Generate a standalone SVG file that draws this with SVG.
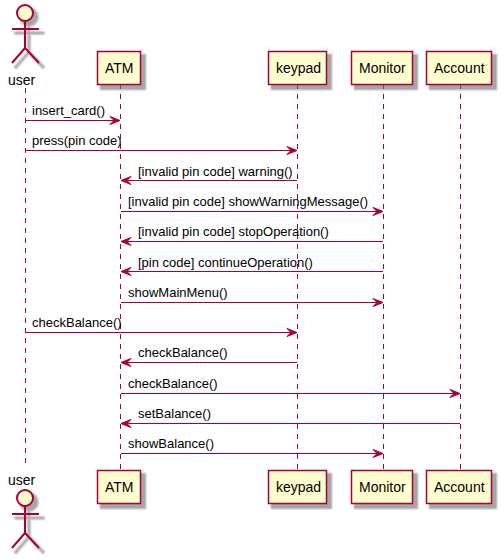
<svg xmlns="http://www.w3.org/2000/svg" width="501" height="559" viewBox="0 0 501 559">
<style>
text{font-family:"Liberation Sans",Arial,sans-serif;font-size:13px;fill:#000}
.p{font-size:14px}
.b{fill:#FEFECE;stroke:#A80036;stroke-width:1.5}
.o{fill:none;stroke:#A80036;stroke-width:2}
.l{stroke:#A80036;stroke-width:1;stroke-dasharray:5,5;fill:none}
.m{stroke:#A80036;stroke-width:1;fill:none}
.a{fill:#A80036;stroke:#A80036;stroke-width:1}
.s1{fill:#707070;stroke:#707070;stroke-linejoin:round;stroke-linecap:round;opacity:.2;stroke-width:5}
.s2{fill:#707070;stroke:#707070;stroke-linejoin:round;stroke-linecap:round;opacity:.25;stroke-width:3}
.s3{fill:#707070;stroke:#707070;stroke-linejoin:round;stroke-linecap:round;opacity:.35;stroke-width:1}
.n{fill:none}
</style>
<defs>
<rect id="r43" x="0" y="0" width="43" height="33"/>
<rect id="r58" x="0" y="0" width="58" height="33"/>
<rect id="r61" x="0" y="0" width="61" height="33"/>
<rect id="r65" x="0" y="0" width="65" height="33"/>
<g id="s43"><use href="#r43" class="s1"/><use href="#r43" class="s2"/><use href="#r43" class="s3"/></g>
<g id="s58"><use href="#r58" class="s1"/><use href="#r58" class="s2"/><use href="#r58" class="s3"/></g>
<g id="s61"><use href="#r61" class="s1"/><use href="#r61" class="s2"/><use href="#r61" class="s3"/></g>
<g id="s65"><use href="#r65" class="s1"/><use href="#r65" class="s2"/><use href="#r65" class="s3"/></g>
<g id="ash" transform="translate(4 4)"><circle cx="25" cy="13" r="8"/><path class="n" d="M25 21V48M12 29H39M25 48L12 63M25 48L39 63"/></g>
<g id="actor"><use href="#ash" class="s1"/><use href="#ash" class="s2"/><use href="#ash" class="s3"/><circle class="b" style="stroke-width:2" cx="25" cy="13" r="8"/><path class="o" d="M25 21V48M12 29H39M25 48L12 63M25 48L39 63"/></g>
<path id="r" class="a" d="M-10-4L0 0L-10 4L-6 0Z"/>
<path id="h" class="a" d="M10-4L0 0L10 4L6 0Z"/>
</defs>
<g id="lifelines">
<path class="l" d="M25.5 88V468"/><path class="l" d="M120.5 84V470"/><path class="l" d="M297.5 84V470"/><path class="l" d="M383.5 84V470"/><path class="l" d="M460.5 84V470"/>
</g>
<g id="connectors">
<path class="m" d="M25 120.500H118"/><use href="#r" x="120" y="120.500"/><text x="32" y="115">insert_card()</text>
<path class="m" d="M25 150.500H295"/><use href="#r" x="297" y="150.500"/><text x="32" y="145">press(pin code)</text>
<path class="m" d="M123 180.500H297"/><use href="#h" x="121" y="180.500"/><text x="138" y="176">[invalid pin code] warning()</text>
<path class="m" d="M121 211.500H381"/><use href="#r" x="383" y="211.500"/><text x="128" y="206">[invalid pin code] showWarningMessage()</text>
<path class="m" d="M123 241.500H383"/><use href="#h" x="121" y="241.500"/><text x="138" y="236">[invalid pin code] stopOperation()</text>
<path class="m" d="M123 271.500H383"/><use href="#h" x="121" y="271.500"/><text x="138" y="267">[pin code] continueOperation()</text>
<path class="m" d="M121 302.500H381"/><use href="#r" x="383" y="302.500"/><text x="128" y="297">showMainMenu()</text>
<path class="m" d="M25 332.500H295"/><use href="#r" x="297" y="332.500"/><text x="32" y="327">checkBalance()</text>
<path class="m" d="M123 362.500H297"/><use href="#h" x="121" y="362.500"/><text x="138" y="357">checkBalance()</text>
<path class="m" d="M121 393.500H458"/><use href="#r" x="460" y="393.500"/><text x="128" y="388">checkBalance()</text>
<path class="m" d="M123 423.500H460"/><use href="#h" x="121" y="423.500"/><text x="138" y="418">setBalance()</text>
<path class="m" d="M121 453.500H381"/><use href="#r" x="383" y="453.500"/><text x="128" y="448">showBalance()</text>
</g>
<g id="user-top"><use href="#actor"/><text class="p" x="8" y="85">user</text></g>
<g id="atm-top"><use href="#s43" x="101.500" y="55.500"/><rect class="b" x="97.500" y="51.500" width="43" height="33"/><text class="p" x="105" y="73">ATM</text></g>
<g id="keypad-top"><use href="#s58" x="272.500" y="55.500"/><rect class="b" x="268.500" y="51.500" width="58" height="33"/><text class="p" x="276" y="73">keypad</text></g>
<g id="monitor-top"><use href="#s61" x="355.500" y="55.500"/><rect class="b" x="351.500" y="51.500" width="61" height="33"/><text class="p" x="359" y="73">Monitor</text></g>
<g id="account-top"><use href="#s65" x="430.500" y="55.500"/><rect class="b" x="426.500" y="51.500" width="65" height="33"/><text class="p" x="434" y="73">Account</text></g>
<g id="user-bottom"><text class="p" x="8" y="485">user</text><use href="#actor" y="485"/></g>
<g id="atm-bottom"><use href="#s43" x="101.500" y="474.500"/><rect class="b" x="97.500" y="470.500" width="43" height="33"/><text class="p" x="105" y="492">ATM</text></g>
<g id="keypad-bottom"><use href="#s58" x="272.500" y="474.500"/><rect class="b" x="268.500" y="470.500" width="58" height="33"/><text class="p" x="276" y="492">keypad</text></g>
<g id="monitor-bottom"><use href="#s61" x="355.500" y="474.500"/><rect class="b" x="351.500" y="470.500" width="61" height="33"/><text class="p" x="359" y="492">Monitor</text></g>
<g id="account-bottom"><use href="#s65" x="430.500" y="474.500"/><rect class="b" x="426.500" y="470.500" width="65" height="33"/><text class="p" x="434" y="492">Account</text></g>
</svg>
